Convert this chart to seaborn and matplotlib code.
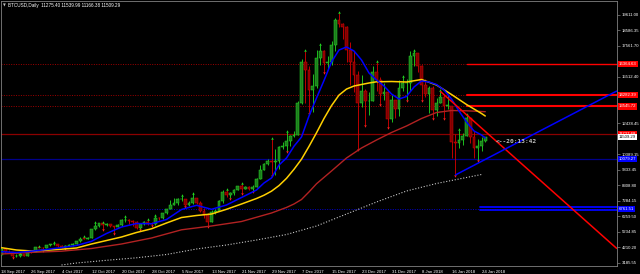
import numpy as np
import pandas as pd
import matplotlib
matplotlib.use("Agg")
import matplotlib.pyplot as plt
import matplotlib.transforms as mtransforms
import seaborn as sns

sns.set_style("dark")
plt.rcParams['font.family'] = ['Liberation Sans', 'DejaVu Sans']

# ---------------- data ----------------
symbol = "BTCUSD,Daily"
start_date = "2017-09-18"
end_date = "2018-01-25"

opens = [3690, 4100, 3900, 3880, 3600, 3600, 3780, 3660, 3930, 3890, 4200, 4190, 4160,
         4340, 4400, 4410, 4310, 4210, 4320, 4370, 4430, 4610, 4780, 4770, 4830, 5430, 5640, 5830, 5680,
         5750, 5600, 5570, 5700, 6000, 6010, 5980, 5900, 5510, 5730, 5890, 5780, 5750, 6160, 6130,
         6450, 6740, 7030, 7160, 7380, 7400, 6990, 7120, 7450, 7140, 6610, 6360, 5900, 6540, 6590,
         7280, 7850, 7700, 7790, 8030, 8250, 8080, 8230, 8040, 8200, 8750, 9300, 9730, 9910, 9870,
         9950, 10860, 10900, 11240, 11620, 11670, 13750, 16500, 15950, 14650, 14900, 16770, 17200, 16400,
         16500, 17600, 19300, 19000, 18800, 17300, 16500, 15600, 13800, 14600, 13900, 13900, 15800, 15300,
         14400, 14500, 12700,
         14000, 13400, 14800, 15100, 15100, 16900, 17100, 16200, 15000, 14400, 14800, 13300, 13800, 14200,
         13600, 13600, 11200, 11100, 11300, 11600, 12800, 11500, 10800, 10900, 11275.40]
highs = [4120, 4120, 4040, 3900, 3760, 3800, 3790, 3970, 3990, 4210, 4250, 4200, 4350,
         4410, 4470, 4420, 4350, 4370, 4420, 4460, 4620, 4880, 4920, 4880, 5450, 5850, 5840, 5850, 5790,
         5760, 5600, 5720, 6070, 6190, 6060, 6040, 5920, 5740, 5950, 6000, 5870, 6280, 6200, 6470,
         6750, 7340, 7450, 7470, 7600, 7420, 7250, 7780, 7450, 7300, 6800, 6480, 6680, 6720, 7320,
         7980, 8000, 7850, 8100, 8300, 8380, 8300, 8250, 8320, 8770, 9640, 9800, 10080, 11400, 10700,
         10900, 11190, 11850, 11650, 11900, 13900, 16700, 17200, 16250, 15700, 17300, 17600, 17300, 16900,
         17900, 19400, 19750, 19100, 18900, 17800, 17200, 15900, 15600, 14700, 14500, 16200, 16500, 15500,
         15100, 14600, 14300,
         14000, 15300, 15500, 15400, 17200, 17250, 17100, 16300, 15400, 14900, 14900, 14100, 14600, 14300,
         14300, 13600, 11700, 12000, 11800, 13000, 12800, 11900, 11400, 11500, 11539.99]
lows = [3680, 3850, 3860, 3560, 3560, 3570, 3640, 3660, 3860, 3890, 4130, 4000, 4160,
        4290, 4370, 4250, 4180, 4160, 4310, 4320, 4400, 4560, 4740, 4740, 4820, 5380, 5570, 5400, 5600,
        5550, 5140, 5540, 5630, 5880, 5730, 5650, 5450, 5420, 5700, 5700, 5680, 5680, 6030, 6110,
        6390, 6740, 7000, 7030, 7300, 6950, 6960, 7080, 7080, 6520, 6150, 5600, 5870, 6420, 6590,
        7130, 7560, 7500, 7700, 7990, 7800, 8080, 8000, 7950, 8180, 8740, 9300, 9680, 9000, 9020,
        9400, 10700, 10600, 10900, 11500, 11650, 13700, 13800, 13100, 13200, 14800, 16300, 15800, 16000,
        16300, 17200, 18800, 18000, 16500, 15000, 14500, 10700, 13500, 12300, 13000, 13900, 14600, 13700,
        14000, 12200, 12500,
        12800, 12900, 14600, 14000, 14600, 16200, 15800, 14000, 14200, 13100, 12800, 12900, 13800, 12800,
        13400, 10100, 9000, 10800, 11000, 11600, 11100, 10100, 10000, 10600, 11166.38]
closes = [4100, 3900, 3880, 3600, 3600, 3780, 3660, 3930, 3890, 4200, 4190, 4160, 4340,
          4400, 4410, 4310, 4210, 4320, 4370, 4430, 4610, 4780, 4770, 4830, 5430, 5640, 5830, 5680, 5750,
          5600, 5570, 5700, 6000, 6010, 5980, 5900, 5510, 5730, 5890, 5780, 5750, 6160, 6130, 6450,
          6740, 7030, 7160, 7380, 7400, 6990, 7120, 7450, 7140, 6610, 6360, 5900, 6540, 6590, 7280,
          7850, 7700, 7790, 8030, 8250, 8080, 8230, 8040, 8200, 8750, 9300, 9730, 9910, 9870, 9950,
          10860, 10900, 11240, 11620, 11670, 13750, 16500, 15950, 14650, 14900, 16770, 17200, 16400, 16500,
          17600, 19300, 19000, 18800, 17300, 16500, 15600, 13800, 14600, 13900, 13900, 15800, 15300, 14400,
          14500, 12700, 14000,
          13400, 14800, 15100, 15100, 16900, 17100, 16200, 15000, 14400, 14800, 13300, 13800, 14200, 13600,
          13600, 11200, 11100, 11300, 11600, 12800, 11500, 10800, 10900, 11250, 11509.29]

# moving-average lines (day offset from start, price)
ma_fast_days = [0, 4, 8, 12, 16, 20, 24, 28, 32, 36, 40, 44, 48, 52, 56, 60, 64, 66, 68, 70, 72,
                74, 76, 78, 80, 82, 84, 86, 88, 90, 92, 94, 96, 98, 100, 102, 104, 106, 108, 110,
                112, 114, 116, 118, 120, 122, 124, 126, 128, 129]
ma_fast_vals = [3915, 3862, 3949, 4061, 4187, 4327, 4605, 5122, 5553, 5785, 5770, 6051, 6714, 6992,
                6727, 7012, 7509, 7755, 8007, 8471, 8802, 9665, 10129, 10911, 11521, 12914, 14107,
                15268, 16494, 17290, 17489, 17224, 16627, 15765, 15301, 14903, 14373, 14041, 14207,
                14837, 15235, 15168, 15002, 14638, 14041, 13245, 12516, 11919, 11654, 11455]
ma_mid_days = [0, 4, 8, 12, 16, 20, 24, 28, 32, 36, 40, 44, 48, 52, 56, 60, 64, 68, 70, 72, 74,
               76, 78, 80, 82, 84, 86, 88, 90, 92, 94, 96, 98, 100, 104, 108, 112, 116, 120, 124,
               128, 129]
ma_mid_vals = [4181, 4028, 3962, 4015, 4081, 4161, 4426, 4658, 4890, 5189, 5434, 5819, 6183, 6316,
               6415, 6727, 7078, 7443, 7660, 7930, 8300, 8780, 9380, 10050, 10900, 11800, 12750,
               13600, 14300, 14700, 14903, 15003, 15102, 15181, 15201, 15168, 15334, 14969, 14339,
               13676, 13079, 12914]
ma_slow_days = [0, 8, 16, 24, 32, 40, 48, 56, 64, 72, 76, 78, 80, 82, 84, 88, 92, 96, 100, 104,
                108, 112, 116, 120, 124, 128, 129]
ma_slow_vals = [3763, 3869, 3949, 4128, 4426, 4824, 5368, 5620, 5918, 6482, 6850, 7080, 7377,
                7880, 8420, 9267, 10129, 10792, 11322, 11820, 12251, 12748, 13146, 13278, 13259,
                13212, 13199]
ma_long_days = [16, 20, 28, 36, 44, 52, 60, 68, 76, 84, 92, 100, 108, 116, 124, 128]
ma_long_vals = [3033, 3166, 3345, 3511, 3730, 4094, 4360, 4691, 5056, 5620, 6415, 7211, 7940,
                8438, 8836, 9035]

# horizontal levels
red_levels = [16364.63, 14282.39, 13545.72]
red_level_labels = ["16364.63", "14282.39", "13545.72"]
red_zone_start = "2018-01-20"
maroon_level = 11727.68
blue_level = 10079.27
blue_dotted_level = 6761.51
blue_band = [6880, 6650]
blue_band_start = "2018-01-23"

# trend lines (two anchors, ray to the right)
red_trend_dates = ["2018-01-13", "2018-01-20"]
red_trend_prices = [14550, 13000]
blue_trend_dates = ["2018-01-17", "2018-01-25"]
blue_trend_prices = [9000, 10035]

x_tick_labels = ["18 Sep 2017", "26 Sep 2017", "4 Oct 2017", "12 Oct 2017", "20 Oct 2017",
                 "28 Oct 2017", "5 Nov 2017", "13 Nov 2017", "21 Nov 2017", "29 Nov 2017",
                 "7 Dec 2017", "15 Dec 2017", "23 Dec 2017", "31 Dec 2017", "8 Jan 2018",
                 "16 Jan 2018", "24 Jan 2018"]
y_tick_values = [19611.00, 18586.35, 17561.70, 16537.05, 15512.40, 14487.75, 13463.10,
                 12438.45, 11413.80, 10389.15, 9333.45, 8308.80, 7284.15, 6259.50, 5234.85,
                 4210.20, 3185.55]
# labels hidden behind the price boxes in the picture are left blank
y_tick_labels = ["19611.00", "18586.35", "17561.70", "", "15512.40", "", "", "12438.45", "",
                 "10389.15", "9333.45", "8308.80", "7284.15", "6259.50", "5234.85", "4210.20",
                 "3185.55"]
countdown = "20:13:42"

# ---------------- drawing ----------------
dates = pd.date_range(start_date, end_date, freq="D")
t0 = dates[0]
def day(s):
    return (pd.Timestamp(s) - t0).days

o = np.array(opens, float); h = np.array(highs, float)
l = np.array(lows, float); c = np.array(closes, float)
idx = np.arange(len(dates))

fig = plt.figure(figsize=(6.4, 2.74), dpi=100, facecolor="black")
ax = fig.add_axes([1 / 640, 8 / 274, 616 / 640, 265 / 274])
ax.set_facecolor("black")

XMIN, XMAX = -0.133, 164.13
YMIN, YMAX = 2967.2, 20539.3
ax.set_xlim(XMIN, XMAX)
ax.set_ylim(YMIN, YMAX)

# full-width horizontal levels
for lv in red_levels:
    ax.axhline(lv, color="#a00000", lw=0.7, ls=(0, (1, 1.5)), zorder=1)
ax.axhline(maroon_level, color="#8b0000", lw=0.9, zorder=1)
ax.axhline(blue_level, color="#00008b", lw=0.9, zorder=1)
ax.axhline(blue_dotted_level, color="#0000cd", lw=0.7, ls=(0, (1, 1.5)), zorder=1)
# right-side zones
xs = day(red_zone_start)
for i, lv in enumerate(red_levels):
    ax.plot([xs, XMAX], [lv, lv], color="#ff0000", lw=1.0 if i == 0 else 1.5, zorder=2)
xb = day(blue_band_start) + 0.5
for lv in blue_band:
    ax.plot([xb, XMAX], [lv, lv], color="#0000ff", lw=1.3, zorder=2)

# long MA (dotted gray)
sns.lineplot(x=ma_long_days, y=ma_long_vals, ax=ax, color="#c8c8c8", lw=0.8,
             linestyle=(0, (1, 1.6)), estimator=None, sort=False, zorder=3)

# candles
up = c >= o
bull_face, bull_edge = "#1d7a1d", "#22dd22"
bear_face, bear_edge = "#800000", "#dd0000"
ax.vlines(idx[up], l[up], h[up], color=bull_edge, lw=0.6, zorder=4)
ax.vlines(idx[~up], l[~up], h[~up], color=bear_edge, lw=0.6, zorder=4)
body = np.maximum(np.abs(c - o), 25)
ax.bar(idx[up], body[up], bottom=np.minimum(o, c)[up], width=0.68, color=bull_face,
       edgecolor=bull_edge, linewidth=0.35, zorder=5)
ax.bar(idx[~up], body[~up], bottom=np.minimum(o, c)[~up], width=0.68, color=bear_face,
       edgecolor=bear_edge, linewidth=0.35, zorder=5)

# fractal markers
upf = np.where((h[1:-1] > h[:-2]) & (h[1:-1] >= h[2:]))[0] + 1
dnf = np.where((l[1:-1] < l[:-2]) & (l[1:-1] <= l[2:]))[0] + 1
ax.plot(idx[upf], h[upf] + 60, ls="none", marker="^", ms=1.8, color="#22dd22", mew=0, zorder=6)
ax.plot(idx[dnf], l[dnf] - 60, ls="none", marker="v", ms=1.8, color="#ff2020", mew=0, zorder=6)

# moving averages
sns.lineplot(x=ma_slow_days, y=ma_slow_vals, ax=ax, color="#b22222", lw=1.0,
             estimator=None, sort=False, zorder=7)
sns.lineplot(x=ma_mid_days, y=ma_mid_vals, ax=ax, color="#ffd000", lw=1.1,
             estimator=None, sort=False, zorder=7)
sns.lineplot(x=ma_fast_days, y=ma_fast_vals, ax=ax, color="#0000ff", lw=1.1,
             estimator=None, sort=False, zorder=8)

# trend rays
def ray(dates_, prices_, color):
    d0, d1 = day(dates_[0]), day(dates_[1])
    slope = (prices_[1] - prices_[0]) / (d1 - d0)
    ax.plot([d0, XMAX], [prices_[0], prices_[0] + slope * (XMAX - d0)], color=color,
            lw=1.1, zorder=9, solid_capstyle="butt")
ray(red_trend_dates, red_trend_prices, "#ff0000")
ray(blue_trend_dates, blue_trend_prices, "#0000ff")

# countdown text
ax.text(len(dates) + 1.8, 11210, "<--" + countdown, color="#c0c0c0", fontsize=4.4,
        family="DejaVu Sans Mono", fontweight="bold", va="center", ha="left", zorder=10)

# axes styling
for sp in ax.spines.values():
    sp.set_color("#808080")
    sp.set_linewidth(0.6)
ax.grid(False)
ax.yaxis.tick_right()
ax.set_yticks(y_tick_values)
ax.set_yticklabels(y_tick_labels)
ax.set_xticks(idx[::8][:len(x_tick_labels)])
ax.set_xticklabels(x_tick_labels, ha="left")
ax.tick_params(axis="y", colors="#808080", labelcolor="white", labelsize=3.1,
               length=2, width=0.5, pad=1.2)
ax.tick_params(axis="x", colors="#808080", labelcolor="white", labelsize=3.1,
               length=2.5, width=0.5, pad=0.6)
ax.set_xlabel(""); ax.set_ylabel("")

# price boxes on the right axis
trans = mtransforms.blended_transform_factory(ax.transAxes, ax.transData)
def box(val, text, fc, tc):
    ax.text(1.003, val, text, transform=trans, ha="left", va="center", fontsize=3.1,
            color=tc, zorder=20, clip_on=False,
            bbox=dict(boxstyle="square,pad=0.25", fc=fc, ec="none"))
for lv, lab in zip(red_levels, red_level_labels):
    box(lv, lab, "#ff0000", "white")
box(maroon_level, f"{maroon_level:.2f}", "#ff0000", "white")
box(closes[-1], f"{closes[-1]:.2f}", "white", "black")
box(blue_level, f"{blue_level:.2f}", "#0000ff", "white")
box(blue_dotted_level, f"{blue_dotted_level:.2f}", "#0000ff", "white")

# header
fig.text(3 / 640, 1 - 5.5 / 274, "\u25BC", color="#c0c0c0", fontsize=2.6,
         family="DejaVu Sans", va="center", ha="left")
fig.text(8 / 640, 1 - 5.5 / 274,
         f"{symbol}  {opens[-1]:.2f} {highs[-1]:.2f} {lows[-1]:.2f} {closes[-1]:.2f}",
         color="white", fontsize=3.3, va="center", ha="left")

fig.savefig("out.png", dpi=100, facecolor="black")
